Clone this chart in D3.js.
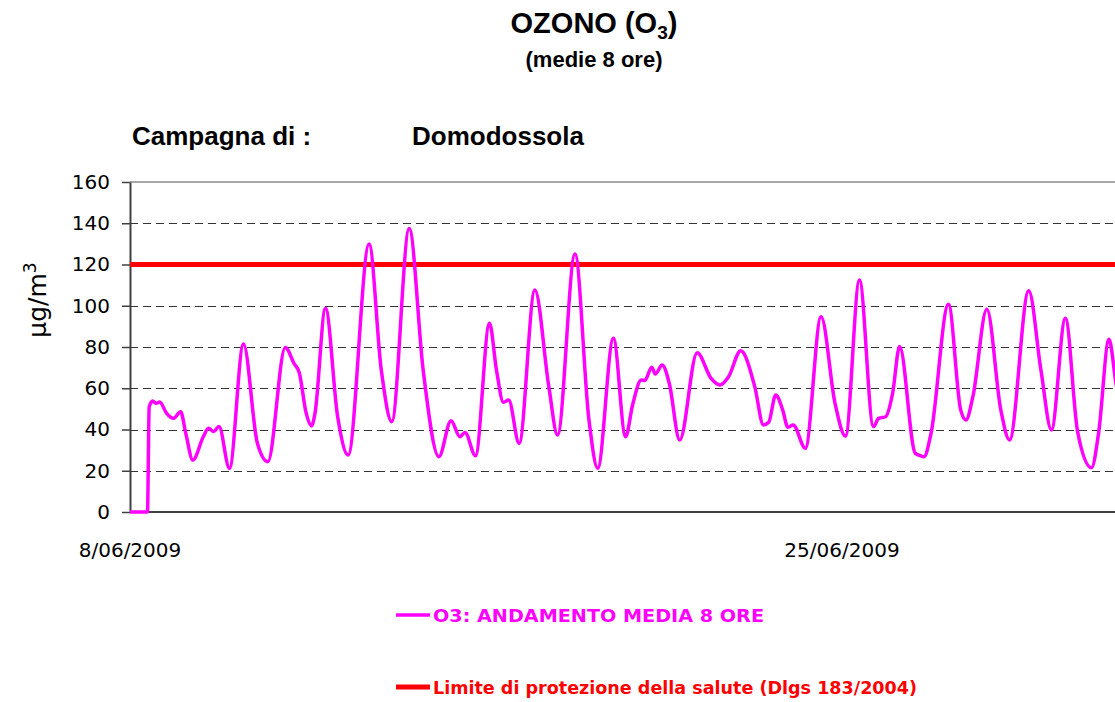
<!DOCTYPE html>
<html lang="it">
<head>
<meta charset="UTF-8">
<title>Ozono (O3) - medie 8 ore</title>
<script src="https://d3js.org/d3.v7.min.js"></script>
<style>
    body { margin: 0; background: #fff; }
    svg { display: block; }
    .hdr { font-family: "Liberation Sans", Arial, sans-serif; font-weight: bold; fill: #000; }
    .tick-lbl { font-family: "Comic Sans MS", "DejaVu Sans", sans-serif; font-size: 20px; fill: #000; }
    .legend-txt { font-family: "Comic Sans MS", "DejaVu Sans", sans-serif; font-weight: bold; font-size: 18px; }
</style>
</head>
<body>
<div id="chart"></div>
<script>
// 8-hour running mean of ozone, Domodossola campaign
const times = [
    "2009-06-08T00:00", "2009-06-08T10:00", "2009-06-08T11:00", "2009-06-08T13:00", "2009-06-08T15:00",
    "2009-06-08T17:00", "2009-06-08T21:00", "2009-06-09T01:00", "2009-06-09T05:00", "2009-06-09T08:00",
    "2009-06-09T12:00", "2009-06-09T18:00", "2009-06-09T21:00", "2009-06-10T00:00", "2009-06-10T03:00",
    "2009-06-10T09:00", "2009-06-10T17:00", "2009-06-11T01:00", "2009-06-11T07:00", "2009-06-11T17:00",
    "2009-06-11T22:00", "2009-06-12T01:00", "2009-06-12T05:00", "2009-06-12T08:00", "2009-06-12T10:00",
    "2009-06-12T16:00", "2009-06-12T23:00", "2009-06-13T05:00", "2009-06-13T17:00", "2009-06-14T00:00",
    "2009-06-14T06:00", "2009-06-14T16:00", "2009-06-15T00:00", "2009-06-15T09:00", "2009-06-15T16:00",
    "2009-06-15T21:00", "2009-06-16T00:00", "2009-06-16T06:00", "2009-06-16T14:00", "2009-06-16T18:00",
    "2009-06-16T22:00", "2009-06-17T01:00", "2009-06-17T07:00", "2009-06-17T16:00", "2009-06-18T00:00",
    "2009-06-18T05:00", "2009-06-18T15:00", "2009-06-18T23:00", "2009-06-19T04:00", "2009-06-19T13:00",
    "2009-06-19T20:00", "2009-06-20T00:00", "2009-06-20T05:00", "2009-06-20T07:00", "2009-06-20T11:00",
    "2009-06-20T13:00", "2009-06-20T17:00", "2009-06-20T21:00", "2009-06-21T03:00", "2009-06-21T13:00",
    "2009-06-21T21:00", "2009-06-22T02:00", "2009-06-22T07:00", "2009-06-22T14:00", "2009-06-22T22:00",
    "2009-06-23T03:00", "2009-06-23T06:00", "2009-06-23T10:00", "2009-06-23T14:00", "2009-06-23T17:00",
    "2009-06-23T20:00", "2009-06-24T03:00", "2009-06-24T12:00", "2009-06-24T20:00", "2009-06-25T02:00",
    "2009-06-25T10:00", "2009-06-25T18:00", "2009-06-25T21:00", "2009-06-26T01:00", "2009-06-26T05:00",
    "2009-06-26T09:00", "2009-06-26T18:00", "2009-06-26T21:00", "2009-06-26T23:00", "2009-06-27T03:00",
    "2009-06-27T13:00", "2009-06-27T20:00", "2009-06-27T23:00", "2009-06-28T03:00", "2009-06-28T11:00",
    "2009-06-28T19:00", "2009-06-29T00:00", "2009-06-29T11:00", "2009-06-29T18:00", "2009-06-30T00:00",
    "2009-06-30T08:00", "2009-06-30T15:00", "2009-06-30T23:00", "2009-07-01T03:00", "2009-07-01T09:00",
    "2009-07-01T13:00", "2009-07-01T18:00"
];
const o3Values = [
    0, 0, 51, 53.8, 52.7,
    53.3, 47.8, 45.4, 48.6, 38,
    25.2, 36.5, 40.6, 39, 41.4,
    21.2, 81.5, 33.3, 24.4, 79.8,
    72, 67.5, 47.8, 41.7, 47.8,
    98.8, 46.2, 27.6, 129.9, 68.8,
    43.8, 137.5, 68.8, 26.8, 44.3,
    36.5, 38.5, 27.3, 91.5, 68.8,
    53.2, 54.3, 33.3, 107.6, 60.8,
    37.3, 125.1, 44.6, 21.2, 84.2,
    36.5, 51.9, 64, 63.8, 70.2,
    66.9, 71.3, 62.4, 34.9, 77.2,
    64.8, 61.6, 65.6, 78.2, 60.8,
    42.2, 43.5, 56.7, 49.5, 41.1,
    42.2, 30.9, 94.7, 52.7, 36.8,
    112.5, 41.4, 45.4, 46.2, 57.5,
    80.2, 28.4, 27.3, 26.8, 38,
    100.7, 49.5, 44.6, 55.9, 98.3,
    49.5, 34.9, 107.3, 68.8, 39.8,
    93.9, 39, 21.5, 38, 83.7,
    62.4, 40
];
const healthLimit = 120;
const yTicks = [0, 20, 40, 60, 80, 100, 120, 140, 160];
const xTickDates = ["2009-06-08T00:00", "2009-06-25T00:00"];
const xTickLabels = ["8/06/2009", "25/06/2009"];
const seriesName = "O3: ANDAMENTO MEDIA 8 ORE";
const limitName = "Limite di protezione della salute (Dlgs 183/2004)";

const width = 1115, height = 702;
const margin = { top: 182, left: 130, bottom: 512 };
const parse = d3.timeParse("%Y-%m-%dT%H:%M");

const data = times.map((t, i) => ({ t: parse(t), v: o3Values[i] }));

const svg = d3.select("#chart").append("svg")
    .attr("width", width)
    .attr("height", height);

// scales: 8/06 and 25/06 are the two labelled dates
const x = d3.scaleTime()
    .domain([parse(xTickDates[0]), parse(xTickDates[1])])
    .range([margin.left, 842]);
const y = d3.scaleLinear()
    .domain([0, 160])
    .range([margin.bottom, margin.top]);

// titles
svg.append("text").attr("class", "hdr")
    .attr("x", 594).attr("y", 33)
    .attr("text-anchor", "middle")
    .style("font-size", "29px")
    .html('OZONO (O<tspan dy="6" style="font-size:19px">3</tspan><tspan dy="-6">)</tspan>');
svg.append("text").attr("class", "hdr")
    .attr("x", 594).attr("y", 67)
    .attr("text-anchor", "middle")
    .style("font-size", "22px")
    .text("(medie 8 ore)");
svg.append("text").attr("class", "hdr")
    .attr("x", 132).attr("y", 145)
    .style("font-size", "26px")
    .text("Campagna di :");
svg.append("text").attr("class", "hdr")
    .attr("x", 412).attr("y", 145)
    .style("font-size", "26px")
    .text("Domodossola");

// gridlines
svg.append("g")
    .selectAll("line")
    .data(yTicks.filter(d => d > 0 && d < 160))
    .join("line")
    .attr("x1", margin.left).attr("x2", width)
    .attr("y1", d => Math.round(y(d)) + 0.5).attr("y2", d => Math.round(y(d)) + 0.5)
    .attr("stroke", "#333")
    .attr("stroke-width", 1.2)
    .attr("stroke-dasharray", "8,5");
svg.append("line")
    .attr("x1", margin.left).attr("x2", width)
    .attr("y1", y(160)).attr("y2", y(160))
    .attr("stroke", "#888").attr("stroke-width", 1.5);

// y axis
const yAxis = svg.append("g")
    .attr("transform", `translate(${margin.left},0)`)
    .call(d3.axisLeft(y).tickValues(yTicks).tickSize(8).tickPadding(12).tickSizeOuter(0));
yAxis.select(".domain").attr("stroke", "#404040").attr("stroke-width", 2);
yAxis.selectAll(".tick line").attr("stroke", "#404040").attr("stroke-width", 1.5);
yAxis.selectAll(".tick text").attr("class", "tick-lbl").attr("font-family", null).attr("font-size", null);

// x axis (baseline + two date labels)
svg.append("line")
    .attr("x1", margin.left).attr("x2", width)
    .attr("y1", y(0)).attr("y2", y(0))
    .attr("stroke", "#404040").attr("stroke-width", 2);
svg.append("g")
    .selectAll("text")
    .data(xTickDates)
    .join("text")
    .attr("class", "tick-lbl")
    .attr("x", d => x(parse(d)))
    .attr("y", 557)
    .attr("text-anchor", "middle")
    .text((d, i) => xTickLabels[i]);

// y label
svg.append("text")
    .attr("class", "tick-lbl")
    .attr("transform", "translate(46,300) rotate(-90)")
    .attr("text-anchor", "middle")
    .style("font-size", "25px")
    .html('\u03bcg/m<tspan dy="-10" style="font-size:17px">3</tspan>');

// limit line
svg.append("line")
    .attr("x1", margin.left).attr("x2", width)
    .attr("y1", y(healthLimit)).attr("y2", y(healthLimit))
    .attr("stroke", "#ff0000").attr("stroke-width", 5);

// ozone series
const line = d3.line()
    .x(d => x(d.t))
    .y(d => y(d.v))
    .curve(d3.curveMonotoneX);
svg.append("path")
    .datum(data)
    .attr("d", line)
    .attr("fill", "none")
    .attr("stroke", "#ff00ff")
    .attr("stroke-width", 3.5)
    .attr("stroke-linejoin", "round");

// legend
const legend = [
    { name: seriesName, color: "#ff00ff", w: 3.5, y: 615, len: 331 },
    { name: limitName, color: "#ff0000", w: 5, y: 687, len: 484 }
];
const lg = svg.append("g").selectAll("g").data(legend).join("g");
lg.append("line")
    .attr("x1", 396).attr("x2", 430)
    .attr("y1", d => d.y).attr("y2", d => d.y)
    .attr("stroke", d => d.color)
    .attr("stroke-width", d => d.w);
lg.append("text")
    .attr("class", "legend-txt")
    .attr("x", 433)
    .attr("y", d => d.y + 7)
    .attr("fill", d => d.color)
    .attr("textLength", d => d.len)
    .attr("lengthAdjust", "spacingAndGlyphs")
    .text(d => d.name);
</script>
</body>
</html>
